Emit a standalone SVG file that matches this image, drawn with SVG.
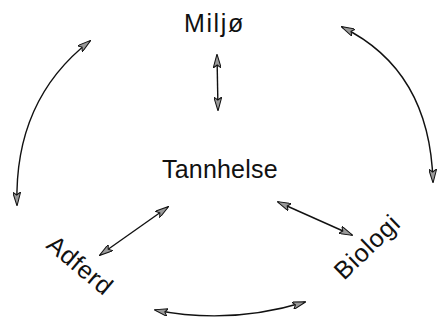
<svg xmlns="http://www.w3.org/2000/svg" width="439" height="320" viewBox="0 0 439 320">
<style>
.lbl{font-family:"Liberation Sans",Arial,sans-serif;font-size:25px;fill:#111;}
.con{fill:none;stroke:#111;stroke-width:1.4;marker-start:url(#ah);marker-end:url(#ah);}
</style>
<defs>
<marker id="ah" viewBox="0 0 14 8" refX="13" refY="4" markerWidth="14" markerHeight="8" markerUnits="userSpaceOnUse" orient="auto-start-reverse">
<path d="M0,0 L14,4 L0,8 L3,4 z" fill="#999" stroke="#111" stroke-width="1"/>
</marker>
</defs>
<rect width="439" height="320" fill="#fff"/>
<g id="connectors">
<path class="con" d="M 90 41 Q 14 100 17 205"/>
<path class="con" d="M 342 27 Q 430 70 433 182"/>
<path class="con" d="M 217 55 L 218 110"/>
<path class="con" d="M 168 207 L 100 255"/>
<path class="con" d="M 278 202 L 352 235"/>
<path class="con" d="M 155 310 Q 230 325 305 302"/>
</g>
<g id="miljo"><text class="lbl" x="184" y="32" letter-spacing="1.6">Miljø</text></g>
<g id="tannhelse"><text class="lbl" x="162" y="178" letter-spacing="0.2">Tannhelse</text></g>
<g id="adferd"><text class="lbl" transform="translate(45,247) rotate(40)" letter-spacing="0.6">Adferd</text></g>
<g id="biologi"><text class="lbl" transform="translate(344,281) rotate(-44)" letter-spacing="0.8">Biologi</text></g>
</svg>
